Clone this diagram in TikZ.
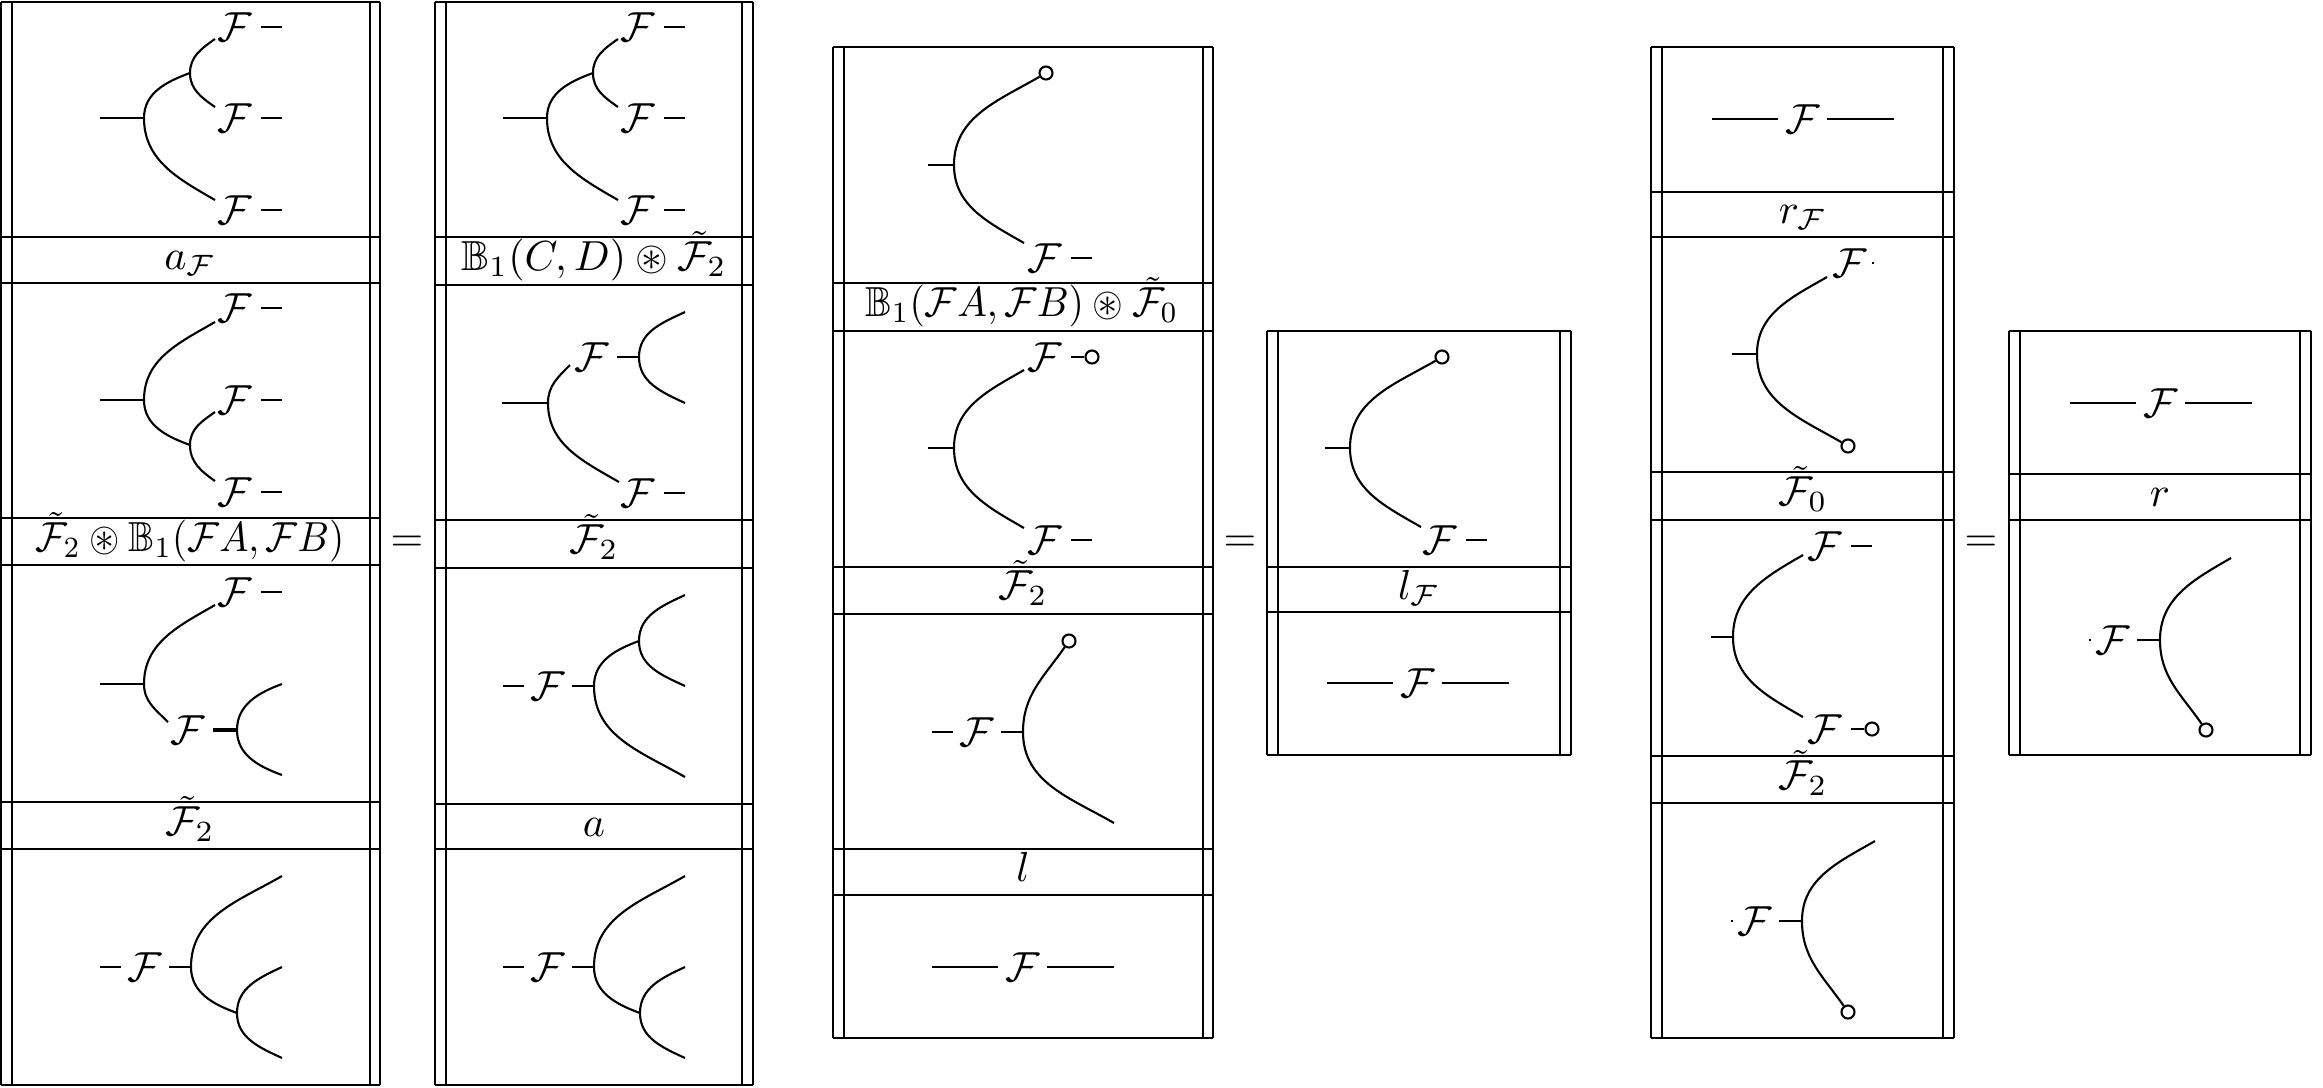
\documentclass[tikz,border=0pt]{standalone}
\usepackage{amssymb}
\tikzset{
  w/.style={line width=0.5pt},
  thk/.style={line width=1pt},
  fr/.style={line width=0.5pt},
  ff/.style={inner sep=0pt},
  lbl/.style={inner sep=0pt, anchor=base},
  unitc/.style={circle, draw, fill=white, inner sep=0pt, minimum size=3.1pt, line width=0.5pt},
}
\newcommand\Fd[3]{\node[ff] (#1) at (#2,-#3) {$\mathcal{F}$};
  \coordinate (#1-a) at (#2+26,-#3); \coordinate (#1-b) at (#2+47,-#3);
  \draw[w] (#1-a) -- (#1-b);}
\newcommand\Fo[3]{\node[ff] (#1) at (#2,-#3) {$\mathcal{F}$};
  \coordinate (#1-a) at (#2+26,-#3); \node[unitc] (#1-o) at (#2+47,-#3) {};
  \draw[w] (#1-a) -- (#1-o);}
\newcommand\Fs[3]{\coordinate (#1-l) at (#2-45,-#3); \coordinate (#1-m) at (#2-24,-#3);
  \node[ff] (#1) at (#2,-#3) {$\mathcal{F}$};
  \coordinate (#1-n) at (#2+24,-#3); \coordinate (#1-r) at (#2+46,-#3);
  \draw[w] (#1-l) -- (#1-m) (#1-n) -- (#1-r);}
\newcommand\Fw[3]{\coordinate (#1-l) at (#2-91,-#3); \coordinate (#1-m) at (#2-25,-#3);
  \node[ff] (#1) at (#2,-#3) {$\mathcal{F}$};
  \coordinate (#1-n) at (#2+24,-#3); \coordinate (#1-r) at (#2+91,-#3);
  \draw[w] (#1-l) -- (#1-m) (#1-n) -- (#1-r);}
\newcommand\Fdot[3]{\coordinate (#1-l) at (#2-24.5,-#3); \coordinate (#1-m) at (#2-22.5,-#3);
  \node[ff] (#1) at (#2,-#3) {$\mathcal{F}$};
  \coordinate (#1-n) at (#2+24,-#3); \coordinate (#1-r) at (#2+47,-#3);
  \draw[w] (#1-l) -- (#1-m) (#1-n) -- (#1-r);}
\begin{document}
\begin{tikzpicture}[x=0.2381pt,y=0.2381pt]
\useasboundingbox (0,0) rectangle (2323,-1087);
% ---------- frames
\foreach \xx in {1,12,370,380} \draw[fr] (\xx,-2) -- (\xx,-1085);
\foreach \yy in {2,237,283,518,565,802,849,1085} \draw[fr] (1,-\yy) -- (380,-\yy);
\foreach \xx in {435,446,742,753} \draw[fr] (\xx,-2) -- (\xx,-1085);
\foreach \yy in {2,237,285,520,568,804,849,1085} \draw[fr] (435,-\yy) -- (753,-\yy);
\foreach \xx in {833,844,1203,1213} \draw[fr] (\xx,-47) -- (\xx,-1038);
\foreach \yy in {47,283,331,567,614,849,895,1038} \draw[fr] (833,-\yy) -- (1213,-\yy);
\foreach \xx in {1267,1278,1560,1571} \draw[fr] (\xx,-331) -- (\xx,-755);
\foreach \yy in {331,567,612,755} \draw[fr] (1267,-\yy) -- (1571,-\yy);
\foreach \xx in {1651,1662,1943,1954} \draw[fr] (\xx,-47) -- (\xx,-1038);
\foreach \yy in {47,192,237,472,520,756,803,1038} \draw[fr] (1651,-\yy) -- (1954,-\yy);
\foreach \xx in {2009,2020,2300,2311} \draw[fr] (\xx,-331) -- (\xx,-755);
\foreach \yy in {331,474,520,755} \draw[fr] (2009,-\yy) -- (2311,-\yy);
% ---------- row labels
\node[lbl] (L11) at (190,-269) {$a_{\mathcal F}$};
\node[lbl] (L12) at (190,-551) {\resizebox{73.5pt}{\height}{$\tilde{\mathcal F}_2\circledast\mathbb{B}_1(\mathcal F A,\mathcal F B)$}};
\node[lbl] (L13) at (190,-835) {$\tilde{\mathcal F}_2$};
\node[lbl] (L21) at (594,-270) {$\mathbb{B}_1(C,D)\circledast\tilde{\mathcal F}_2$};
\node[lbl] (L22) at (594,-553) {$\tilde{\mathcal F}_2$};
\node[lbl] (L23) at (594,-836) {$a$};
\node[lbl] (L31) at (1022,-316) {\resizebox{74.5pt}{\height}{$\mathbb{B}_1(\mathcal F A,\mathcal F B)\circledast\tilde{\mathcal F}_0$}};
\node[lbl] (L32) at (1023,-599) {$\tilde{\mathcal F}_2$};
\node[lbl] (L33) at (1023,-881) {$l$};
\node[lbl] (L41) at (1419,-599) {$l_{\mathcal F}$};
\node[lbl] (L51) at (1803,-223) {$r_{\mathcal F}$};
\node[lbl] (L52) at (1803,-505) {$\tilde{\mathcal F}_0$};
\node[lbl] (L53) at (1803,-789) {$\tilde{\mathcal F}_2$};
\node[lbl] (L61) at (2160,-506) {$r$};
% ---------- equals
\node (eq1) at (407,-544) {$=$};
\node (eq2) at (1240,-544) {$=$};
\node (eq3) at (1981,-544) {$=$};
% ========== column 1
% p1
\coordinate (a1s) at (100,-118); \coordinate (a1r) at (144,-118); \coordinate (a1v) at (190,-73);
\coordinate (a1e1) at (215,-39); \coordinate (a1e2) at (215,-107); \coordinate (a1e3) at (215,-200);
\draw[w] (a1s) -- (a1r);
\draw[w] (a1r) to[out=90,in=200] (a1v);
\draw[w] (a1v) to[out=90,in=215] (a1e1);
\draw[w] (a1v) to[out=-90,in=145] (a1e2);
\draw[w] (a1r) to[out=-90,in=150] (a1e3);
\Fd{a1f1}{235}{27} \Fd{a1f2}{235}{118} \Fd{a1f3}{235}{210}
% p2
\coordinate (a2s) at (100,-400); \coordinate (a2r) at (144,-400); \coordinate (a2e1) at (215,-322);
\coordinate (a2v) at (190,-445); \coordinate (a2e2) at (215,-412); \coordinate (a2e3) at (215,-481);
\draw[w] (a2s) -- (a2r);
\draw[w] (a2r) to[out=90,in=210] (a2e1);
\draw[w] (a2r) to[out=-90,in=160] (a2v);
\draw[w] (a2v) to[out=90,in=215] (a2e2);
\draw[w] (a2v) to[out=-90,in=145] (a2e3);
\Fd{a2f1}{235}{308} \Fd{a2f2}{235}{400} \Fd{a2f3}{235}{492}
% p3
\coordinate (a3s) at (100,-684); \coordinate (a3r) at (144,-684); \coordinate (a3e1) at (215,-605);
\coordinate (a3e2) at (168,-722); \coordinate (a3v) at (237,-730);
\coordinate (a3e3) at (282,-684); \coordinate (a3e4) at (282,-775);
\draw[w] (a3s) -- (a3r);
\draw[w] (a3r) to[out=90,in=210] (a3e1);
\draw[w] (a3r) to[out=-90,in=135] (a3e2);
\draw[w] (a3v) to[out=90,in=200] (a3e3);
\draw[w] (a3v) to[out=-90,in=160] (a3e4);
\Fd{a3f1}{235}{592}
\node[ff] (a3f2) at (188,-730) {$\mathcal F$};
\coordinate (a3f2a) at (213,-730);
\draw[thk] (a3f2a) -- (a3v);
% p4
\Fs{a4f}{145}{967}
\coordinate (a4e1) at (282,-876); \coordinate (a4v) at (237,-1013);
\coordinate (a4e2) at (282,-967); \coordinate (a4e3) at (282,-1058);
\draw[w] (a4f-r) to[out=90,in=210] (a4e1);
\draw[w] (a4f-r) to[out=-90,in=160] (a4v);
\draw[w] (a4v) to[out=90,in=205] (a4e2);
\draw[w] (a4v) to[out=-90,in=155] (a4e3);
% ========== column 2
% p1
\coordinate (b1s) at (503,-118); \coordinate (b1r) at (547,-118); \coordinate (b1v) at (593,-73);
\coordinate (b1e1) at (618,-39); \coordinate (b1e2) at (618,-107); \coordinate (b1e3) at (618,-200);
\draw[w] (b1s) -- (b1r);
\draw[w] (b1r) to[out=90,in=200] (b1v);
\draw[w] (b1v) to[out=90,in=215] (b1e1);
\draw[w] (b1v) to[out=-90,in=145] (b1e2);
\draw[w] (b1r) to[out=-90,in=150] (b1e3);
\Fd{b1f1}{638}{27} \Fd{b1f2}{638}{118} \Fd{b1f3}{638}{210}
% p2
\coordinate (b2s) at (502,-403); \coordinate (b2r) at (548,-403); \coordinate (b2e1) at (570,-365);
\coordinate (b2v) at (639,-357); \coordinate (b2e2) at (685,-312); \coordinate (b2e3) at (685,-403);
\coordinate (b2e4) at (619,-482);
\draw[w] (b2s) -- (b2r);
\draw[w] (b2r) to[out=90,in=225] (b2e1);
\draw[w] (b2r) to[out=-90,in=150] (b2e4);
\node[ff] (b2f1) at (592,-357) {$\mathcal F$};
\coordinate (b2w) at (617,-357);
\draw[w] (b2w) -- (b2v);
\draw[w] (b2v) to[out=90,in=205] (b2e2);
\draw[w] (b2v) to[out=-90,in=155] (b2e3);
\Fd{b2f2}{638}{493}
% p3
\Fs{b3f}{548}{686}
\coordinate (b3v) at (639,-641); \coordinate (b3e1) at (685,-595);
\coordinate (b3e2) at (685,-686); \coordinate (b3e3) at (685,-777);
\draw[w] (b3f-r) to[out=90,in=200] (b3v);
\draw[w] (b3v) to[out=90,in=205] (b3e1);
\draw[w] (b3v) to[out=-90,in=155] (b3e2);
\draw[w] (b3f-r) to[out=-90,in=150] (b3e3);
% p4
\Fs{b4f}{548}{967}
\coordinate (b4e1) at (685,-876); \coordinate (b4v) at (640,-1013);
\coordinate (b4e2) at (685,-967); \coordinate (b4e3) at (685,-1058);
\draw[w] (b4f-r) to[out=90,in=210] (b4e1);
\draw[w] (b4f-r) to[out=-90,in=160] (b4v);
\draw[w] (b4v) to[out=90,in=205] (b4e2);
\draw[w] (b4v) to[out=-90,in=155] (b4e3);
% ========== column 3
% p1
\coordinate (c1s) at (928,-165); \coordinate (c1r) at (954,-165);
\node[unitc] (c1o) at (1046,-73) {};
\coordinate (c1e) at (1024,-243);
\draw[w] (c1s) -- (c1r);
\draw[w] (c1r) to[out=90,in=210] (c1o);
\draw[w] (c1r) to[out=-90,in=150] (c1e);
\Fd{c1f}{1045}{258}
% p2
\coordinate (c2s) at (928,-448); \coordinate (c2r) at (954,-448);
\coordinate (c2e1) at (1024,-370); \coordinate (c2e2) at (1024,-528);
\draw[w] (c2s) -- (c2r);
\draw[w] (c2r) to[out=90,in=210] (c2e1);
\draw[w] (c2r) to[out=-90,in=150] (c2e2);
\Fo{c2f1}{1045}{357} \Fd{c2f2}{1045}{540}
% p3
\Fs{c3f}{977}{732}
\node[unitc] (c3o) at (1069,-641) {};
\coordinate (c3e) at (1114,-823);
\draw[w] (c3f-r) to[out=90,in=235] (c3o);
\draw[w] (c3f-r) to[out=-90,in=150] (c3e);
% p4
\Fw{c4f}{1023}{967}
% ========== column 4
\coordinate (d1s) at (1325,-448); \coordinate (d1r) at (1350,-448);
\node[unitc] (d1o) at (1442,-357) {};
\coordinate (d1e) at (1421,-527);
\draw[w] (d1s) -- (d1r);
\draw[w] (d1r) to[out=90,in=210] (d1o);
\draw[w] (d1r) to[out=-90,in=150] (d1e);
\Fd{d1f}{1440}{540}
\Fw{d2f}{1418}{683}
% ========== column 5
\Fw{e1f}{1803}{119}
% p2
\coordinate (e2s) at (1732,-354); \coordinate (e2r) at (1757,-354);
\coordinate (e2e) at (1827,-277);
\node[unitc] (e2o) at (1848,-446) {};
\draw[w] (e2s) -- (e2r);
\draw[w] (e2r) to[out=90,in=210] (e2e);
\draw[w] (e2r) to[out=-90,in=150] (e2o);
\node[ff] (e2f) at (1850,-263) {$\mathcal F$};
\coordinate (e2d1) at (1872,-263); \coordinate (e2d2) at (1874,-263);
\draw[w] (e2d1) -- (e2d2);
% p3
\coordinate (e3s) at (1711,-637); \coordinate (e3r) at (1733,-637);
\coordinate (e3e1) at (1803,-555); \coordinate (e3e2) at (1803,-717);
\draw[w] (e3s) -- (e3r);
\draw[w] (e3r) to[out=90,in=210] (e3e1);
\draw[w] (e3r) to[out=-90,in=150] (e3e2);
\Fd{e3f1}{1825}{546} \Fo{e3f2}{1825}{729}
% p4
\Fdot{e4f}{1755}{921}
\coordinate (e4e) at (1875,-841);
\node[unitc] (e4o) at (1848,-1012) {};
\draw[w] (e4f-r) to[out=90,in=210] (e4e);
\draw[w] (e4f-r) to[out=-90,in=125] (e4o);
% ========== column 6
\Fw{f1f}{2161}{403}
\Fdot{f2f}{2113}{640}
\coordinate (f2e) at (2231,-558);
\node[unitc] (f2o) at (2206,-730) {};
\draw[w] (f2f-r) to[out=90,in=210] (f2e);
\draw[w] (f2f-r) to[out=-90,in=125] (f2o);
\end{tikzpicture}
\end{document}
